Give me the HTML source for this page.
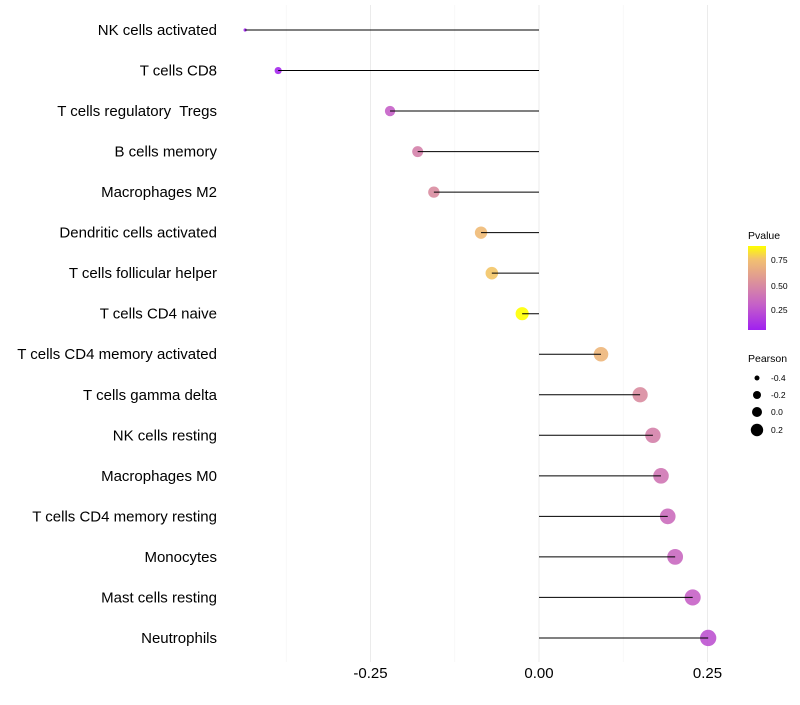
<!DOCTYPE html>
<html><head><meta charset="utf-8"><style>
body{margin:0;background:#fff;font-family:"Liberation Sans",sans-serif}
svg text{font-family:"Liberation Sans",sans-serif;white-space:pre}
</style></head><body>
<svg id="chart" width="800" height="700" xmlns="http://www.w3.org/2000/svg">
<defs><linearGradient id="pg" x1="0" y1="1" x2="0" y2="0">
<stop offset="0" stop-color="#A020F0"/><stop offset="0.3" stop-color="#C560C8"/>
<stop offset="0.54" stop-color="#D98CA0"/><stop offset="0.84" stop-color="#F2C070"/>
<stop offset="1" stop-color="#FFFF00"/></linearGradient></defs>
<g id="grid"></g>
<g id="marks"></g>
<g id="labels"></g>
<g id="xt"></g>
<g>
<text x="748" y="239" font-size="10.5">Pvalue</text>
<rect x="748" y="246" width="18" height="84" fill="url(#pg)"/>
<text x="771" y="263" font-size="8.5">0.75</text>
<text x="771" y="289" font-size="8.5">0.50</text>
<text x="771" y="313" font-size="8.5">0.25</text>
</g>
<g>
<text x="748" y="362" font-size="10.5">Pearson</text>
<circle cx="757" cy="378" r="2.5"/><text x="771" y="381" font-size="8.5">-0.4</text>
<circle cx="757" cy="395" r="4"/><text x="771" y="398" font-size="8.5">-0.2</text>
<circle cx="757" cy="412" r="5"/><text x="771" y="415" font-size="8.5">0.0</text>
<circle cx="757" cy="430" r="6.2"/><text x="771" y="433" font-size="8.5">0.2</text>
</g>
</svg>
<script>
const categories=["NK cells activated","T cells CD8","T cells regulatory  Tregs","B cells memory","Macrophages M2","Dendritic cells activated","T cells follicular helper","T cells CD4 naive","T cells CD4 memory activated","T cells gamma delta","NK cells resting","Macrophages M0","T cells CD4 memory resting","Monocytes","Mast cells resting","Neutrophils"];
const pearson=[-0.436,-0.387,-0.221,-0.180,-0.156,-0.086,-0.070,-0.025,0.092,0.150,0.169,0.181,0.191,0.202,0.228,0.251];
const pvalue=[0.06,0.08,0.30,0.45,0.50,0.72,0.76,0.88,0.70,0.50,0.45,0.40,0.36,0.34,0.31,0.25];
const xTicks=[-0.25,0,0.25];
const xTickLabels=["-0.25","0.00","0.25"];
const minorTicks=[-0.375,-0.125,0.125];
const NS="http://www.w3.org/2000/svg";
const X=v=>539+v*674;
const Y=i=>30+i*40.53;
const stops=[[0.054,[160,32,240]],[0.3,[197,96,200]],[0.5,[217,140,160]],[0.75,[242,192,112]],[0.877,[255,255,0]]];
function col(p){if(p<=stops[0][0])return "rgb("+stops[0][1]+")";for(let k=1;k<stops.length;k++){if(p<=stops[k][0]){const a=stops[k-1],b=stops[k],t=(p-a[0])/(b[0]-a[0]);return "rgb("+a[1].map((c,j)=>Math.round(c+(b[1][j]-c)*t))+")";}}return "rgb("+stops[stops.length-1][1]+")";}
const R=v=>Math.max(1.5,1.08*Math.sqrt(Math.max(1.8,11+(v+0.387)*(v<-0.387?180:72))));
function mk(t,a,p){const e=document.createElementNS(NS,t);for(const k in a)e.setAttribute(k,a[k]);p.appendChild(e);return e;}
const grid=document.getElementById('grid'),marks=document.getElementById('marks'),labels=document.getElementById('labels'),xt=document.getElementById('xt');
minorTicks.concat(xTicks).forEach(v=>{const l=mk('line',{x1:X(v),x2:X(v),y1:5,y2:662,stroke:minorTicks.includes(v)?'#f4f4f4':'#ebebeb','stroke-width':minorTicks.includes(v)?0.6:1},grid);

});
categories.forEach((c,i)=>{const y=Y(i);
const ci=mk('circle',{cx:X(pearson[i]),cy:y,r:R(pearson[i]),fill:col(pvalue[i]),'fill-opacity':0.9},marks);


const s=mk('line',{x1:X(0),x2:X(pearson[i]),y1:y,y2:y,stroke:'#000','stroke-width':1},marks);


const t=mk('text',{x:217,y:y+5,'text-anchor':'end','font-size':15},labels);t.textContent=c;

});
xTicks.forEach((v,i)=>{const t=mk('text',{x:X(v),y:678,'text-anchor':'middle','font-size':15},xt);t.textContent=xTickLabels[i];

});
</script>
</body></html>
